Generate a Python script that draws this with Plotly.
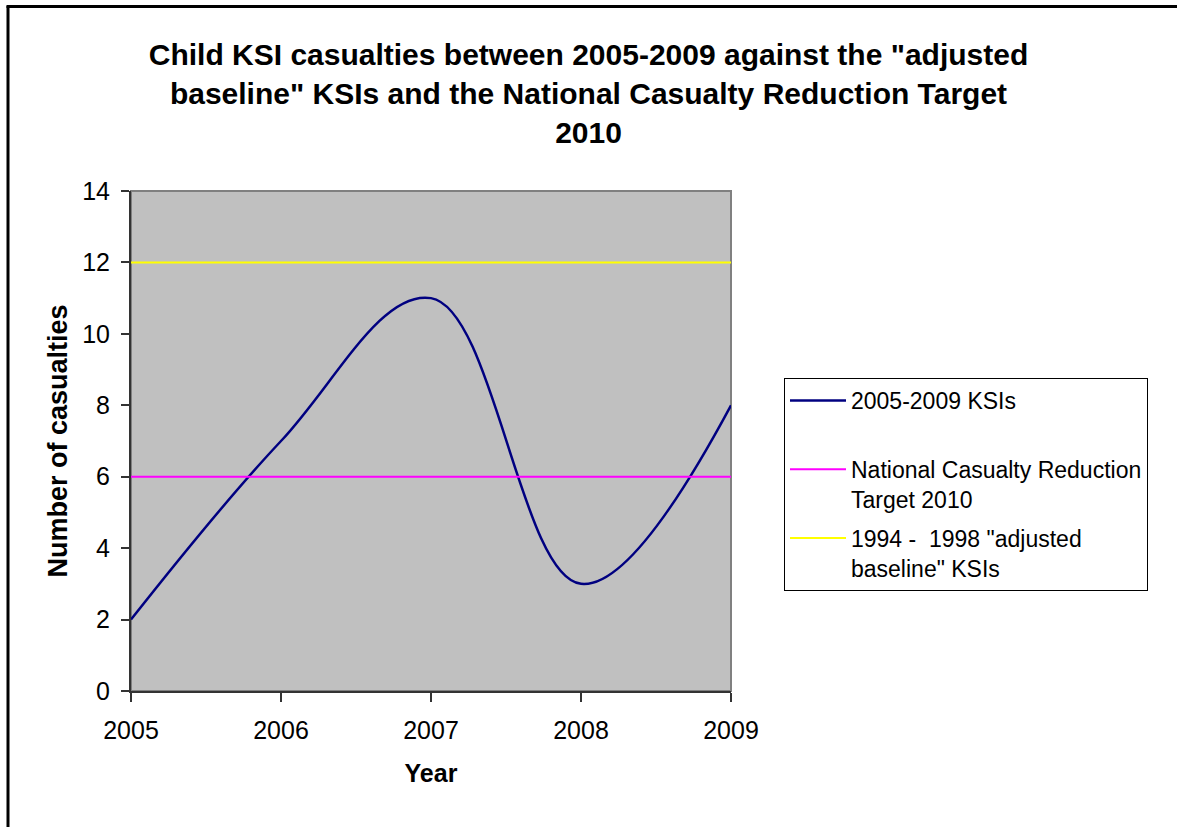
import plotly.graph_objects as go

# Yearly child KSI counts and the two reference levels
years = [2005, 2006, 2007, 2008, 2009]
ksi_counts = [2, 7, 11, 3, 8]
national_target = [6, 6, 6, 6, 6]
adjusted_baseline = [12, 12, 12, 12, 12]

series_names = [
    "2005-2009 KSIs<br> ",
    "National Casualty Reduction<br>Target 2010",
    "1994 -  1998 \"adjusted<br>baseline\" KSIs",
]

title_text = ("Child KSI casualties between 2005-2009 against the \"adjusted<br>"
              "baseline\" KSIs and the National Casualty Reduction Target<br>2010")

FONT = "Arial, Liberation Sans, sans-serif"
W, H = 1177, 827
L, R, T, B = 131, 731, 191, 691  # plot-area pixel box

fig = go.Figure()
fig.add_trace(go.Scatter(
    x=years, y=ksi_counts, name=series_names[0], mode="lines",
    line=dict(color="#000080", width=2.5, shape="spline", smoothing=1.1),
    legendgroup="a",
))
fig.add_trace(go.Scatter(
    x=years, y=national_target, name=series_names[1], mode="lines",
    line=dict(color="#FF00FF", width=2), legendgroup="b",
))
fig.add_trace(go.Scatter(
    x=years, y=adjusted_baseline, name=series_names[2], mode="lines",
    line=dict(color="#FFFF00", width=2), legendgroup="c",
))

pw, ph = R - L, B - T

def px_x(p):
    return (p - L) / pw

def px_y(p):
    return (B - p) / ph

shapes = [
    # grey frame around the plot area
    dict(type="rect", xref="paper", yref="paper", x0=0, x1=1, y0=0, y1=1,
         line=dict(color="#808080", width=2), layer="below"),
    # outer chart border (left and top edges)
    dict(type="line", xref="paper", yref="paper",
         x0=px_x(8), x1=px_x(8), y0=px_y(6), y1=px_y(900),
         line=dict(color="black", width=3)),
    dict(type="line", xref="paper", yref="paper",
         x0=px_x(6.5), x1=px_x(1300), y0=px_y(6.5), y1=px_y(6.5),
         line=dict(color="black", width=3)),
]

fig.update_layout(
    width=W, height=H,
    margin=dict(l=L, r=W - R, t=T, b=H - B, autoexpand=False),
    paper_bgcolor="white",
    plot_bgcolor="#C0C0C0",
    font=dict(family=FONT, color="black"),
    title=dict(
        text=title_text, x=0.5, xanchor="center",
        y=1 - 65 / H, yanchor="top", yref="container",
        font=dict(family=FONT, size=30, color="black", weight="bold"),
    ),
    xaxis=dict(
        range=[2005, 2009], tickvals=years, ticktext=[str(y) for y in years],
        ticks="outside", ticklen=9, tickwidth=1.5, tickcolor="#333333",
        showline=True, linecolor="#333333", linewidth=2,
        showgrid=False, zeroline=False,
        tickfont=dict(family=FONT, size=25, color="black"),
        ticklabelstandoff=7,
        title=dict(text="<b>Year</b>", font=dict(family=FONT, size=25, color="black"),
                   standoff=21),
    ),
    yaxis=dict(
        range=[0, 14], dtick=2, tick0=0,
        ticks="outside", ticklen=8, tickwidth=1.5, tickcolor="#333333",
        showline=True, linecolor="#333333", linewidth=2,
        showgrid=False, zeroline=False,
        tickfont=dict(family=FONT, size=25, color="black"),
        ticklabelstandoff=6,
        title=dict(text="<b>Number of casualties</b>",
                   font=dict(family=FONT, size=27, color="black"), standoff=7),
    ),
    legend=dict(
        x=px_x(784), y=px_y(378), xanchor="left", yanchor="top",
        bgcolor="white", bordercolor="black", borderwidth=1,
        font=dict(family=FONT, size=23, color="black"),
        valign="top", tracegroupgap=6, traceorder="grouped",
        itemwidth=56,
    ),
    shapes=shapes,
)

fig.write_html("out.html")
